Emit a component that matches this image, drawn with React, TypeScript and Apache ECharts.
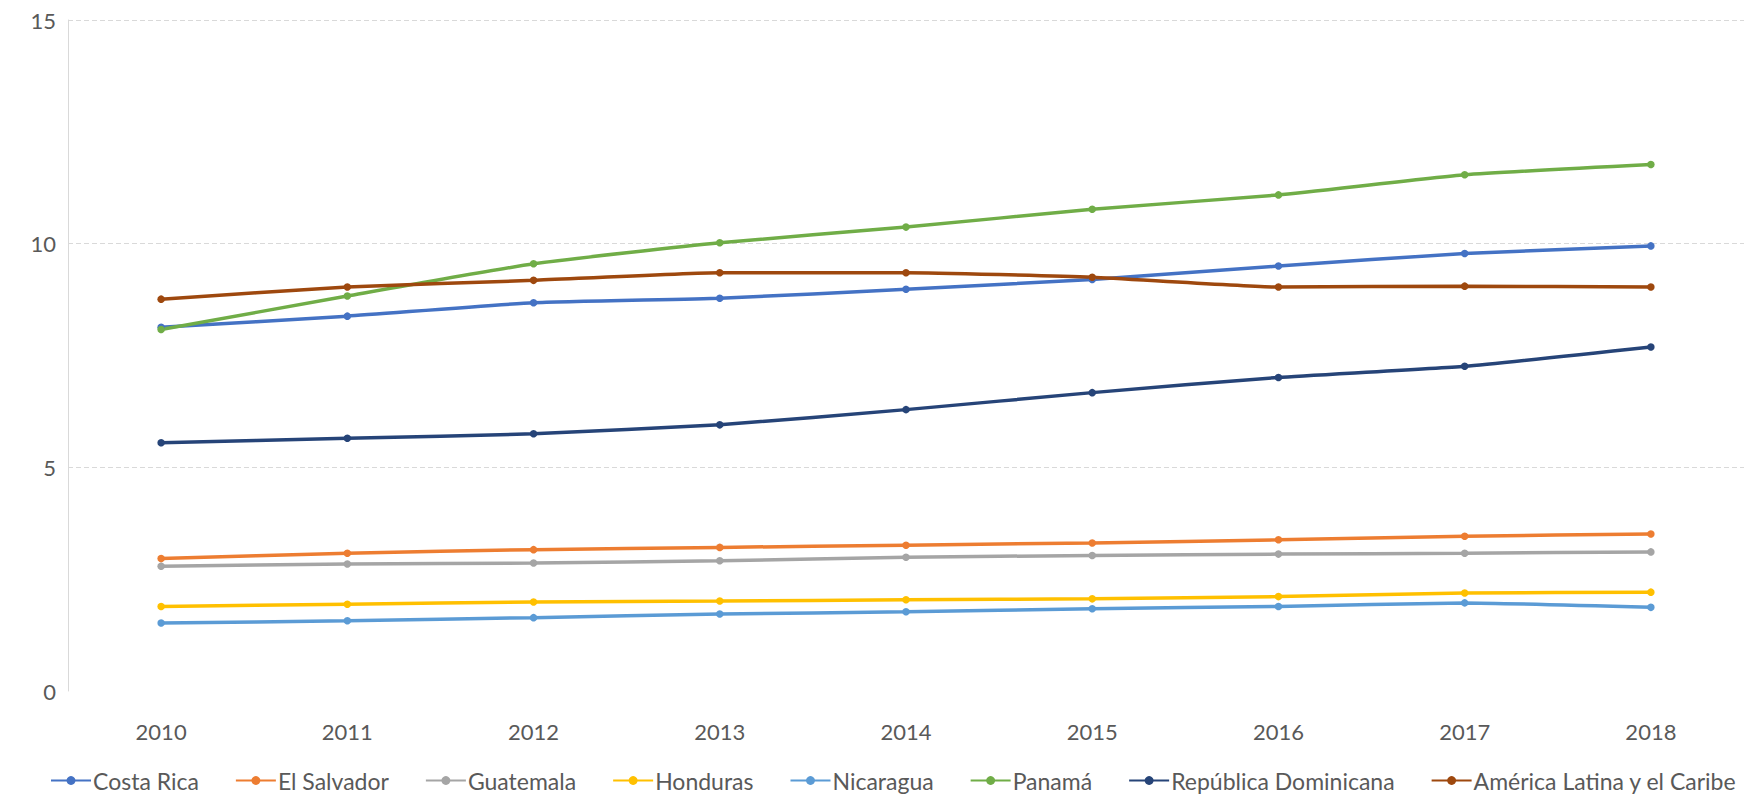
import React, { useEffect, useRef } from "react";
import * as echarts from "echarts";

const years = ["2010", "2011", "2012", "2013", "2014", "2015", "2016", "2017", "2018"];

const costaRica = [8.13, 8.38, 8.68, 8.78, 8.98, 9.2, 9.5, 9.78, 9.95];
const elSalvador = [2.96, 3.08, 3.16, 3.21, 3.26, 3.31, 3.38, 3.46, 3.51];
const guatemala = [2.79, 2.84, 2.86, 2.91, 2.99, 3.03, 3.06, 3.08, 3.11];
const honduras = [1.89, 1.94, 1.99, 2.01, 2.04, 2.06, 2.11, 2.19, 2.21];
const nicaragua = [1.52, 1.57, 1.64, 1.72, 1.77, 1.84, 1.89, 1.97, 1.87];
const panama = [8.08, 8.83, 9.55, 10.02, 10.37, 10.77, 11.09, 11.54, 11.77];
const repDominicana = [5.55, 5.65, 5.75, 5.95, 6.29, 6.67, 7.01, 7.26, 7.69];
const americaLatina = [8.76, 9.03, 9.18, 9.35, 9.35, 9.25, 9.03, 9.05, 9.03];

const seriesNames = [
  "Costa Rica",
  "El Salvador",
  "Guatemala",
  "Honduras",
  "Nicaragua",
  "Panamá",
  "República Dominicana",
  "América Latina y el Caribe",
];
const seriesData = [costaRica, elSalvador, guatemala, honduras, nicaragua, panama, repDominicana, americaLatina];
const colors = ["#4472C4", "#ED7D31", "#A5A5A5", "#FFC000", "#5B9BD5", "#70AD47", "#264478", "#9E480E"];

const yTicks = { min: 0, max: 15, interval: 5 };

const FONT = "Lato, 'Open Sans', sans-serif";

export default function App() {
  const ref = useRef<HTMLDivElement>(null);
  useEffect(() => {
    if (!ref.current) return;
    const chart = echarts.init(ref.current, null, { renderer: "svg" });
    chart.setOption({
      animation: false,
      color: colors,
      textStyle: { fontFamily: FONT },
      grid: { left: 68, right: 0, top: 20, bottom: 110, containLabel: false },
      xAxis: {
        type: "category",
        data: years,
        boundaryGap: true,
        axisLine: { show: false },
        axisTick: { show: false },
        axisLabel: { color: "#595959", fontSize: 22, margin: 29, fontFamily: FONT },
      },
      yAxis: {
        type: "value",
        min: yTicks.min,
        max: yTicks.max,
        interval: yTicks.interval,
        axisLine: { show: true, lineStyle: { color: "#D9D9D9", width: 1 } },
        axisTick: { show: false },
        axisLabel: { color: "#595959", fontSize: 22, margin: 12, fontFamily: FONT },
        splitLine: {
          show: true,
          lineStyle: { color: ["rgba(0,0,0,0)", "#D9D9D9", "#D9D9D9", "#D9D9D9"], type: [5, 3], width: 1 },
        },
      },
      legend: {
        data: seriesNames,
        top: 764,
        left: 45,
        itemWidth: 40,
        itemHeight: 11,
        itemGap: 36,
        textStyle: { color: "#595959", fontSize: 23, fontFamily: FONT, padding: [0, 0, 0, -3] },
      },
      series: seriesNames.map((name, i) => ({
        name,
        type: "line",
        data: seriesData[i],
        smooth: 0.15,
        symbol: "circle",
        symbolSize: 7.5,
        lineStyle: { width: 3.5, color: colors[i] },
        itemStyle: { color: colors[i] },
      })),
    });
    return () => chart.dispose();
  }, []);
  return (
    <div
      ref={ref}
      style={{ position: "fixed", top: 0, left: 0, width: 1744, height: 801, background: "#fff" }}
    />
  );
}
